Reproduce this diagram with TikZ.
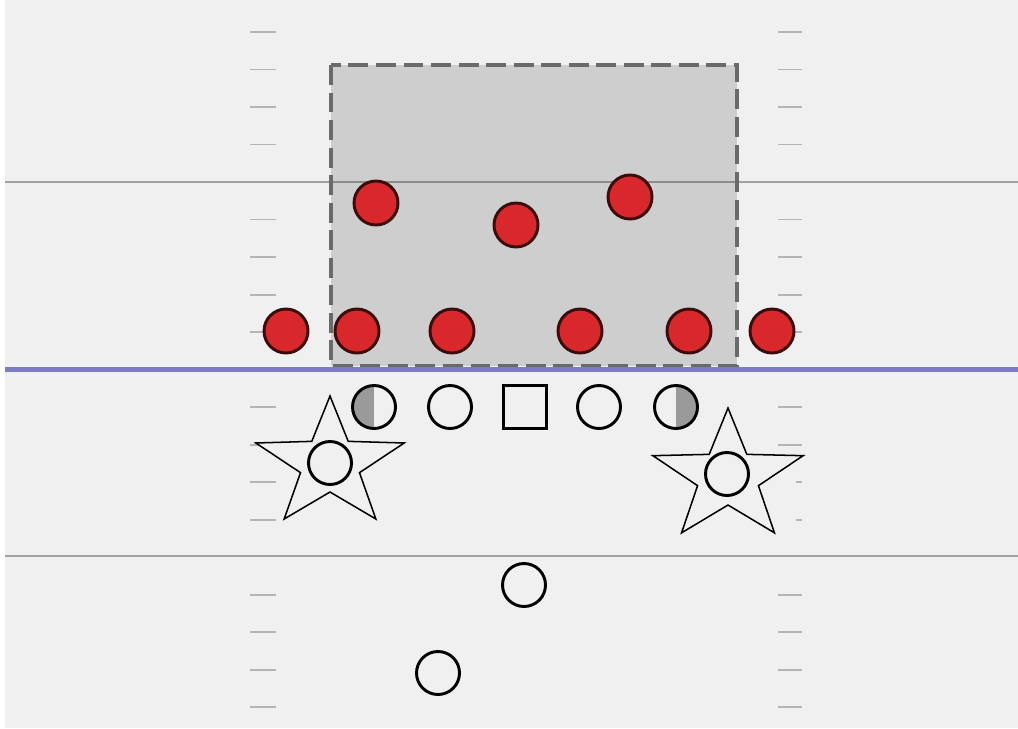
\documentclass[tikz,border=0pt]{standalone}
\usetikzlibrary{calc}
\definecolor{turf}{HTML}{F0F0F0}
\definecolor{yardline}{HTML}{A2A2A2}
\definecolor{hashmark}{HTML}{B4B4B4}
\definecolor{scrimmage}{HTML}{7B7BC6}
\definecolor{zonerule}{HTML}{6A6A6A}
\definecolor{defred}{HTML}{D8282C}
\definecolor{defrule}{HTML}{3A0C0C}
\definecolor{endgray}{HTML}{9A9A9A}

\begin{document}
\begin{tikzpicture}[
  x=0.03cm, y=-0.03cm,
  d/.style={draw=defrule, circle, line width=2.5pt, fill=defred,
            minimum size=1.32cm, inner sep=0pt},
  o/.style={draw=black, circle, line width=2.5pt, fill=turf,
            minimum size=1.29cm, inner sep=0pt},
  ctr/.style={draw=black, rectangle, line width=2.5pt, fill=turf,
            minimum size=1.29cm, inner sep=0pt},
  endl/.style={o, path picture={\fill[endgray] (path picture bounding box.south west)
            rectangle (path picture bounding box.north);}},
  endr/.style={o, path picture={\fill[endgray] (path picture bounding box.south)
            rectangle (path picture bounding box.north east);}},
  hash/.style={draw=hashmark, line width=1.7pt},
  yard/.style={draw=yardline, line width=2.2pt},
  starline/.style={draw=black, line width=1.3pt, fill=turf, line join=miter},
]
\useasboundingbox (0,0) rectangle (1018,728);
\fill[turf] (5,0) rectangle (1018,728);

% hash marks
\foreach \y in {32,69.5,107,144.5,219.5,257,294.5,332,407,444.5,482,519.5,594.5,632,669.5,707}
  \draw[hash] (250,\y) -- (276,\y);
\foreach \y in {32,69.5,107,144.5,219.5,257,294.5,332,407,444.5,594.5,632,669.5,707}
  \draw[hash] (778,\y) -- (802,\y);
\foreach \y in {482,519.5}
  \draw[hash] (796,\y) -- (802,\y);

% yard lines
\draw[yard] (5,182) -- (1018,182);
\draw[yard] (5,556) -- (1018,556);

% coverage zone
\coordinate (zone nw) at (331,65);
\coordinate (zone se) at (737,366);
\fill[black, fill opacity=0.14] (zone nw) rectangle (zone se);
\draw[zonerule, line width=2.9pt, dash pattern=on 17pt off 6.5pt] (zone nw) rectangle (zone se);

% line of scrimmage
\draw[scrimmage, line width=4pt] (5,369.5) -- (1018,369.5);

% defense
\node[d] (de1) at (286,331) {};
\node[d] (dt1) at (357,331) {};
\node[d] (dt2) at (452,331) {};
\node[d] (dt3) at (580,331) {};
\node[d] (dt4) at (689,331) {};
\node[d] (de2) at (772,331) {};
\node[d] (lb1) at (376,203) {};
\node[d] (lb2) at (516,225) {};
\node[d] (lb3) at (630,197) {};

% receivers
\coordinate (lstar) at (330,464);
\coordinate (rstar) at (728,477);
\begin{scope}[shift={(lstar)}]
  \draw[starline] (-90:78 and 68)
    \foreach \a in {-90,-162,-234,-306,-378} { -- (\a-36:31 and 28) -- (\a-72:78 and 68) } -- cycle;
\end{scope}
\begin{scope}[shift={(rstar)}]
  \draw[starline] (-90:79 and 69)
    \foreach \a in {-90,-162,-234,-306,-378} { -- (\a-36:32 and 28) -- (\a-72:79 and 69) } -- cycle;
\end{scope}
\node[o] (wr1) at (330,463) {};
\node[o] (wr2) at (727,474) {};

% offense
\node[endl] (te1) at (374,407) {};
\node[o] (g1) at (450,407) {};
\node[ctr] (c) at (525,407) {};
\node[o] (g2) at (599,407) {};
\node[endr] (te2) at (676,407) {};
\node[o] (qb) at (524,585) {};
\node[o] (rb) at (438,673) {};

\end{tikzpicture}
\end{document}
